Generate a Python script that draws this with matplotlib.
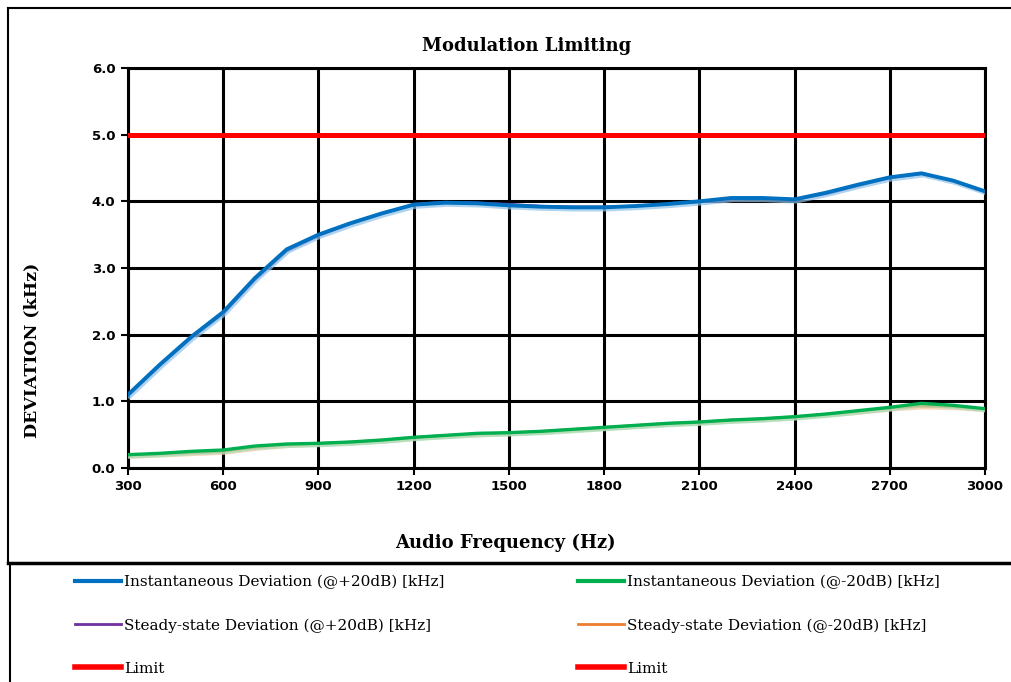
import numpy as np
import matplotlib
matplotlib.use("Agg")
import matplotlib.pyplot as plt
import matplotlib.patheffects as pe
from matplotlib.lines import Line2D

# audio frequency sweep (Hz)
freq = [300, 400, 500, 600, 700, 800, 900, 1000, 1100, 1200, 1300, 1400, 1500,
        1600, 1700, 1800, 1900, 2000, 2100, 2200, 2300, 2400, 2500, 2600, 2700,
        2800, 2900, 3000]

# deviation readings (kHz)
inst_hi = [1.10, 1.55, 1.97, 2.34, 2.85, 3.28, 3.50, 3.67, 3.82, 3.95, 3.98, 3.97,
           3.94, 3.92, 3.91, 3.91, 3.93, 3.96, 4.00, 4.05, 4.05, 4.03, 4.13, 4.25,
           4.36, 4.42, 4.31, 4.15]
steady_hi = [1.08, 1.53, 1.95, 2.31, 2.82, 3.25, 3.48, 3.66, 3.81, 3.96, 3.99, 3.98,
             3.96, 3.93, 3.92, 3.92, 3.93, 3.96, 3.99, 4.03, 4.04, 4.02, 4.11, 4.23,
             4.35, 4.41, 4.31, 4.14]
inst_lo = [0.20, 0.22, 0.25, 0.27, 0.33, 0.36, 0.37, 0.39, 0.42, 0.46, 0.49, 0.52,
           0.53, 0.55, 0.58, 0.61, 0.64, 0.67, 0.69, 0.72, 0.74, 0.77, 0.81, 0.86,
           0.91, 0.97, 0.94, 0.89]
steady_lo = [0.19, 0.21, 0.23, 0.25, 0.31, 0.35, 0.37, 0.39, 0.42, 0.46, 0.49, 0.51,
             0.53, 0.55, 0.58, 0.61, 0.64, 0.67, 0.69, 0.72, 0.74, 0.77, 0.81, 0.85,
             0.90, 0.93, 0.92, 0.89]
limit = [5.0] * len(freq)

x_ticks = [300, 600, 900, 1200, 1500, 1800, 2100, 2400, 2700, 3000]
y_ticks = [0.0, 1.0, 2.0, 3.0, 4.0, 5.0, 6.0]

W, H = 1011, 682
fig = plt.figure(figsize=(W / 100, H / 100), dpi=100)
ax = fig.add_axes([128 / W, 1 - 468 / H, (985 - 128) / W, (468 - 68) / H])


def shadow(color):
    return [pe.SimpleLineShadow(offset=(1.2, -1.6), shadow_color=color, alpha=0.7),
            pe.Normal()]


ax.plot(freq, steady_hi, color="#7030A0", lw=1.6, zorder=4)
ax.plot(freq, inst_hi, color="#0070C0", lw=2.8, zorder=5,
        path_effects=shadow("#8fc3ea"))
ax.plot(freq, steady_lo, color="#ED7D31", lw=1.8, zorder=4,
        path_effects=shadow("#f3c7a0"))
ax.plot(freq, inst_lo, color="#00B050", lw=2.4, zorder=5,
        path_effects=shadow("#9fe0b9"))
ax.plot(freq, limit, color="#FF0000", lw=3.6, zorder=6)

ax.set_xlim(300, 3000)
ax.set_ylim(0, 6)
ax.set_xticks(x_ticks)
ax.set_yticks(y_ticks)
ax.set_xticklabels([str(v) for v in x_ticks])
ax.set_yticklabels([f"{v:.1f}" for v in y_ticks])
ax.grid(True, color="black", lw=2.2)
ax.set_axisbelow(True)
for sp in ax.spines.values():
    sp.set_linewidth(2.2)
ax.tick_params(direction="out", length=5, width=1.5, pad=4)
for lab in ax.get_xticklabels() + ax.get_yticklabels():
    lab.set_fontfamily("DejaVu Sans")
    lab.set_fontweight("bold")
    lab.set_fontsize(9.5)

fig.text(527 / W, 1 - 46 / H, "Modulation Limiting", ha="center", va="center",
         family="DejaVu Serif", weight="bold", fontsize=13)
fig.text(505 / W, 1 - 543 / H, "Audio Frequency (Hz)", ha="center", va="center",
         family="DejaVu Serif", weight="bold", fontsize=13)
fig.text(32 / W, 1 - 350 / H, "DEVIATION (kHz)", ha="center", va="center",
         rotation=90, family="DejaVu Serif", weight="bold", fontsize=12.5)

# chart frame and legend box
k = dict(color="black", transform=fig.transFigure)
fig.add_artist(Line2D([8 / W, 1], [1 - 8 / H, 1 - 8 / H], lw=1.5, **k))
fig.add_artist(Line2D([8 / W, 8 / W], [1 - 8 / H, 1 - 562 / H], lw=1.5, **k))
fig.add_artist(Line2D([8 / W, 1], [1 - 563 / H, 1 - 563 / H], lw=2.5, **k))
fig.add_artist(Line2D([10 / W, 10 / W], [1 - 563 / H, 0], lw=1.5, **k))

col1 = [Line2D([], [], color="#0070C0", lw=3),
        Line2D([], [], color="#7030A0", lw=2),
        Line2D([], [], color="#FF0000", lw=4)]
col2 = [Line2D([], [], color="#00B050", lw=3),
        Line2D([], [], color="#ED7D31", lw=2),
        Line2D([], [], color="#FF0000", lw=4)]
labels1 = ["Instantaneous Deviation (@+20dB) [kHz]",
           "Steady-state Deviation (@+20dB) [kHz]", "Limit"]
labels2 = ["Instantaneous Deviation (@-20dB) [kHz]",
           "Steady-state Deviation (@-20dB) [kHz]", "Limit"]
lkw = dict(loc="upper left", frameon=False, borderpad=0, borderaxespad=0,
           handlelength=3.0, handletextpad=0.2, labelspacing=1.9,
           prop={"family": "DejaVu Serif", "size": 11})
fig.legend(col1, labels1, bbox_to_anchor=(75 / W, 1 - 575 / H), **lkw)
fig.legend(col2, labels2, bbox_to_anchor=(578 / W, 1 - 575 / H), **lkw)

fig.savefig("out.png", dpi=100)
